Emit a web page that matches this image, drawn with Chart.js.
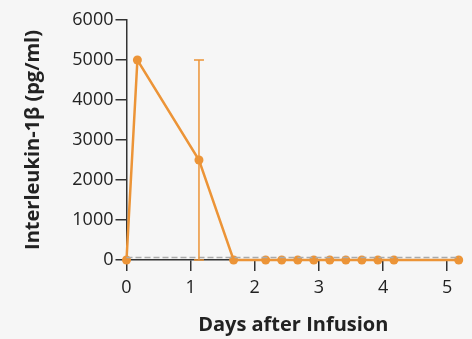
<!DOCTYPE html>
<html>
<head>
<meta charset="utf-8">
<script src="https://cdn.jsdelivr.net/npm/chart.js@4"></script>
<style>
  html, body { margin: 0; padding: 0; background: #f6f6f6; }
  #wrap { width: 472px; height: 339px; }
</style>
</head>
<body>
<div id="wrap"><canvas id="chart" width="472" height="339"></canvas></div>
<script>
// values
const days = [0, 0.17, 1.13, 1.67, 2.17, 2.42, 2.67, 2.92, 3.17, 3.42, 3.67, 3.92, 4.17, 5.18];
const il1b = [0, 5000, 2500, 0, 0, 0, 0, 0, 0, 0, 0, 0, 0, 0];
// error bars (only the 1.1 day point has one)
const errLow = [null, null, 0, null, null, null, null, null, null, null, null, null, null, null];
const errHigh = [null, null, 5000, null, null, null, null, null, null, null, null, null, null, null];
// dashed reference line
const refDays = [0, 5.2];
const refLevel = 60;
const yTicks = [0, 1000, 2000, 3000, 4000, 5000, 6000];
const xTicks = [0, 1, 2, 3, 4, 5];

const orange = '#ec9437';
const axisColor = '#333333';

const errorBars = {
  id: 'errorBars',
  afterDatasetsDraw(chart) {
    const ctx = chart.ctx;
    const xs = chart.scales.x, ys = chart.scales.y;
    ctx.save();
    ctx.strokeStyle = orange;
    ctx.lineWidth = 1.5;
    days.forEach((d, i) => {
      if (errHigh[i] == null) return;
      const x = xs.getPixelForValue(d);
      const y1 = ys.getPixelForValue(errLow[i]);
      const y2 = ys.getPixelForValue(errHigh[i]);
      ctx.beginPath();
      ctx.moveTo(x, y1); ctx.lineTo(x, y2);
      ctx.moveTo(x - 5, y2); ctx.lineTo(x + 5, y2);
      ctx.moveTo(x - 5, y1); ctx.lineTo(x + 5, y1);
      ctx.stroke();
    });
    ctx.restore();
  }
};

const tickFont = { family: 'Open Sans', size: 18 };
const titleFont = { family: 'Open Sans', size: 20, weight: 'bold' };

new Chart(document.getElementById('chart'), {
  type: 'line',
  data: {
    datasets: [
      {
        data: days.map((d, i) => ({ x: d, y: il1b[i] })),
        borderColor: orange,
        backgroundColor: orange,
        borderWidth: 2.5,
        pointRadius: 4.5,
        pointHoverRadius: 4.5,
        pointBorderWidth: 0,
        clip: false,
        order: 2
      },
      {
        data: refDays.map(d => ({ x: d, y: refLevel })),
        borderColor: '#aaaaaa',
        borderWidth: 1.5,
        borderDash: [6, 3],
        pointRadius: 0,
        clip: false,
        order: 1
      }
    ]
  },
  options: {
    responsive: false,
    animation: false,
    layout: { padding: { top: 20, right: 12, left: 0, bottom: 0 } },
    plugins: { legend: { display: false }, tooltip: { enabled: false } },
    scales: {
      x: {
        type: 'linear',
        min: 0,
        max: 5.2,
        afterFit: s => { s.height = 79; },
        afterBuildTicks: s => { s.ticks = xTicks.map(v => ({ value: v })); },
        grid: { drawOnChartArea: false, drawTicks: true, tickLength: 11, color: axisColor, lineWidth: 1.5 },
        border: { display: true, color: axisColor, width: 1.5 },
        ticks: { color: '#222', font: tickFont, padding: 6, maxRotation: 0, callback: v => String(v) },
        title: {
          display: true,
          text: 'Days after Infusion',
          color: '#222',
          font: titleFont,
          padding: { top: 0, bottom: 2 }
        }
      },
      y: {
        min: 0,
        max: 6000,
        afterFit: s => { s.width = 126.5; },
        afterBuildTicks: s => { s.ticks = yTicks.map(v => ({ value: v })); },
        grid: { drawOnChartArea: false, drawTicks: true, tickLength: 11, color: axisColor, lineWidth: 1.5 },
        border: { display: true, color: axisColor, width: 1.5 },
        ticks: { color: '#222', font: tickFont, padding: 2, callback: v => String(v) },
        title: {
          display: true,
          text: 'Interleukin-1β (pg/ml)',
          color: '#222',
          font: titleFont,
          padding: { top: 21, bottom: 0 }
        }
      }
    }
  },
  plugins: [errorBars]
});
</script>
</body>
</html>
